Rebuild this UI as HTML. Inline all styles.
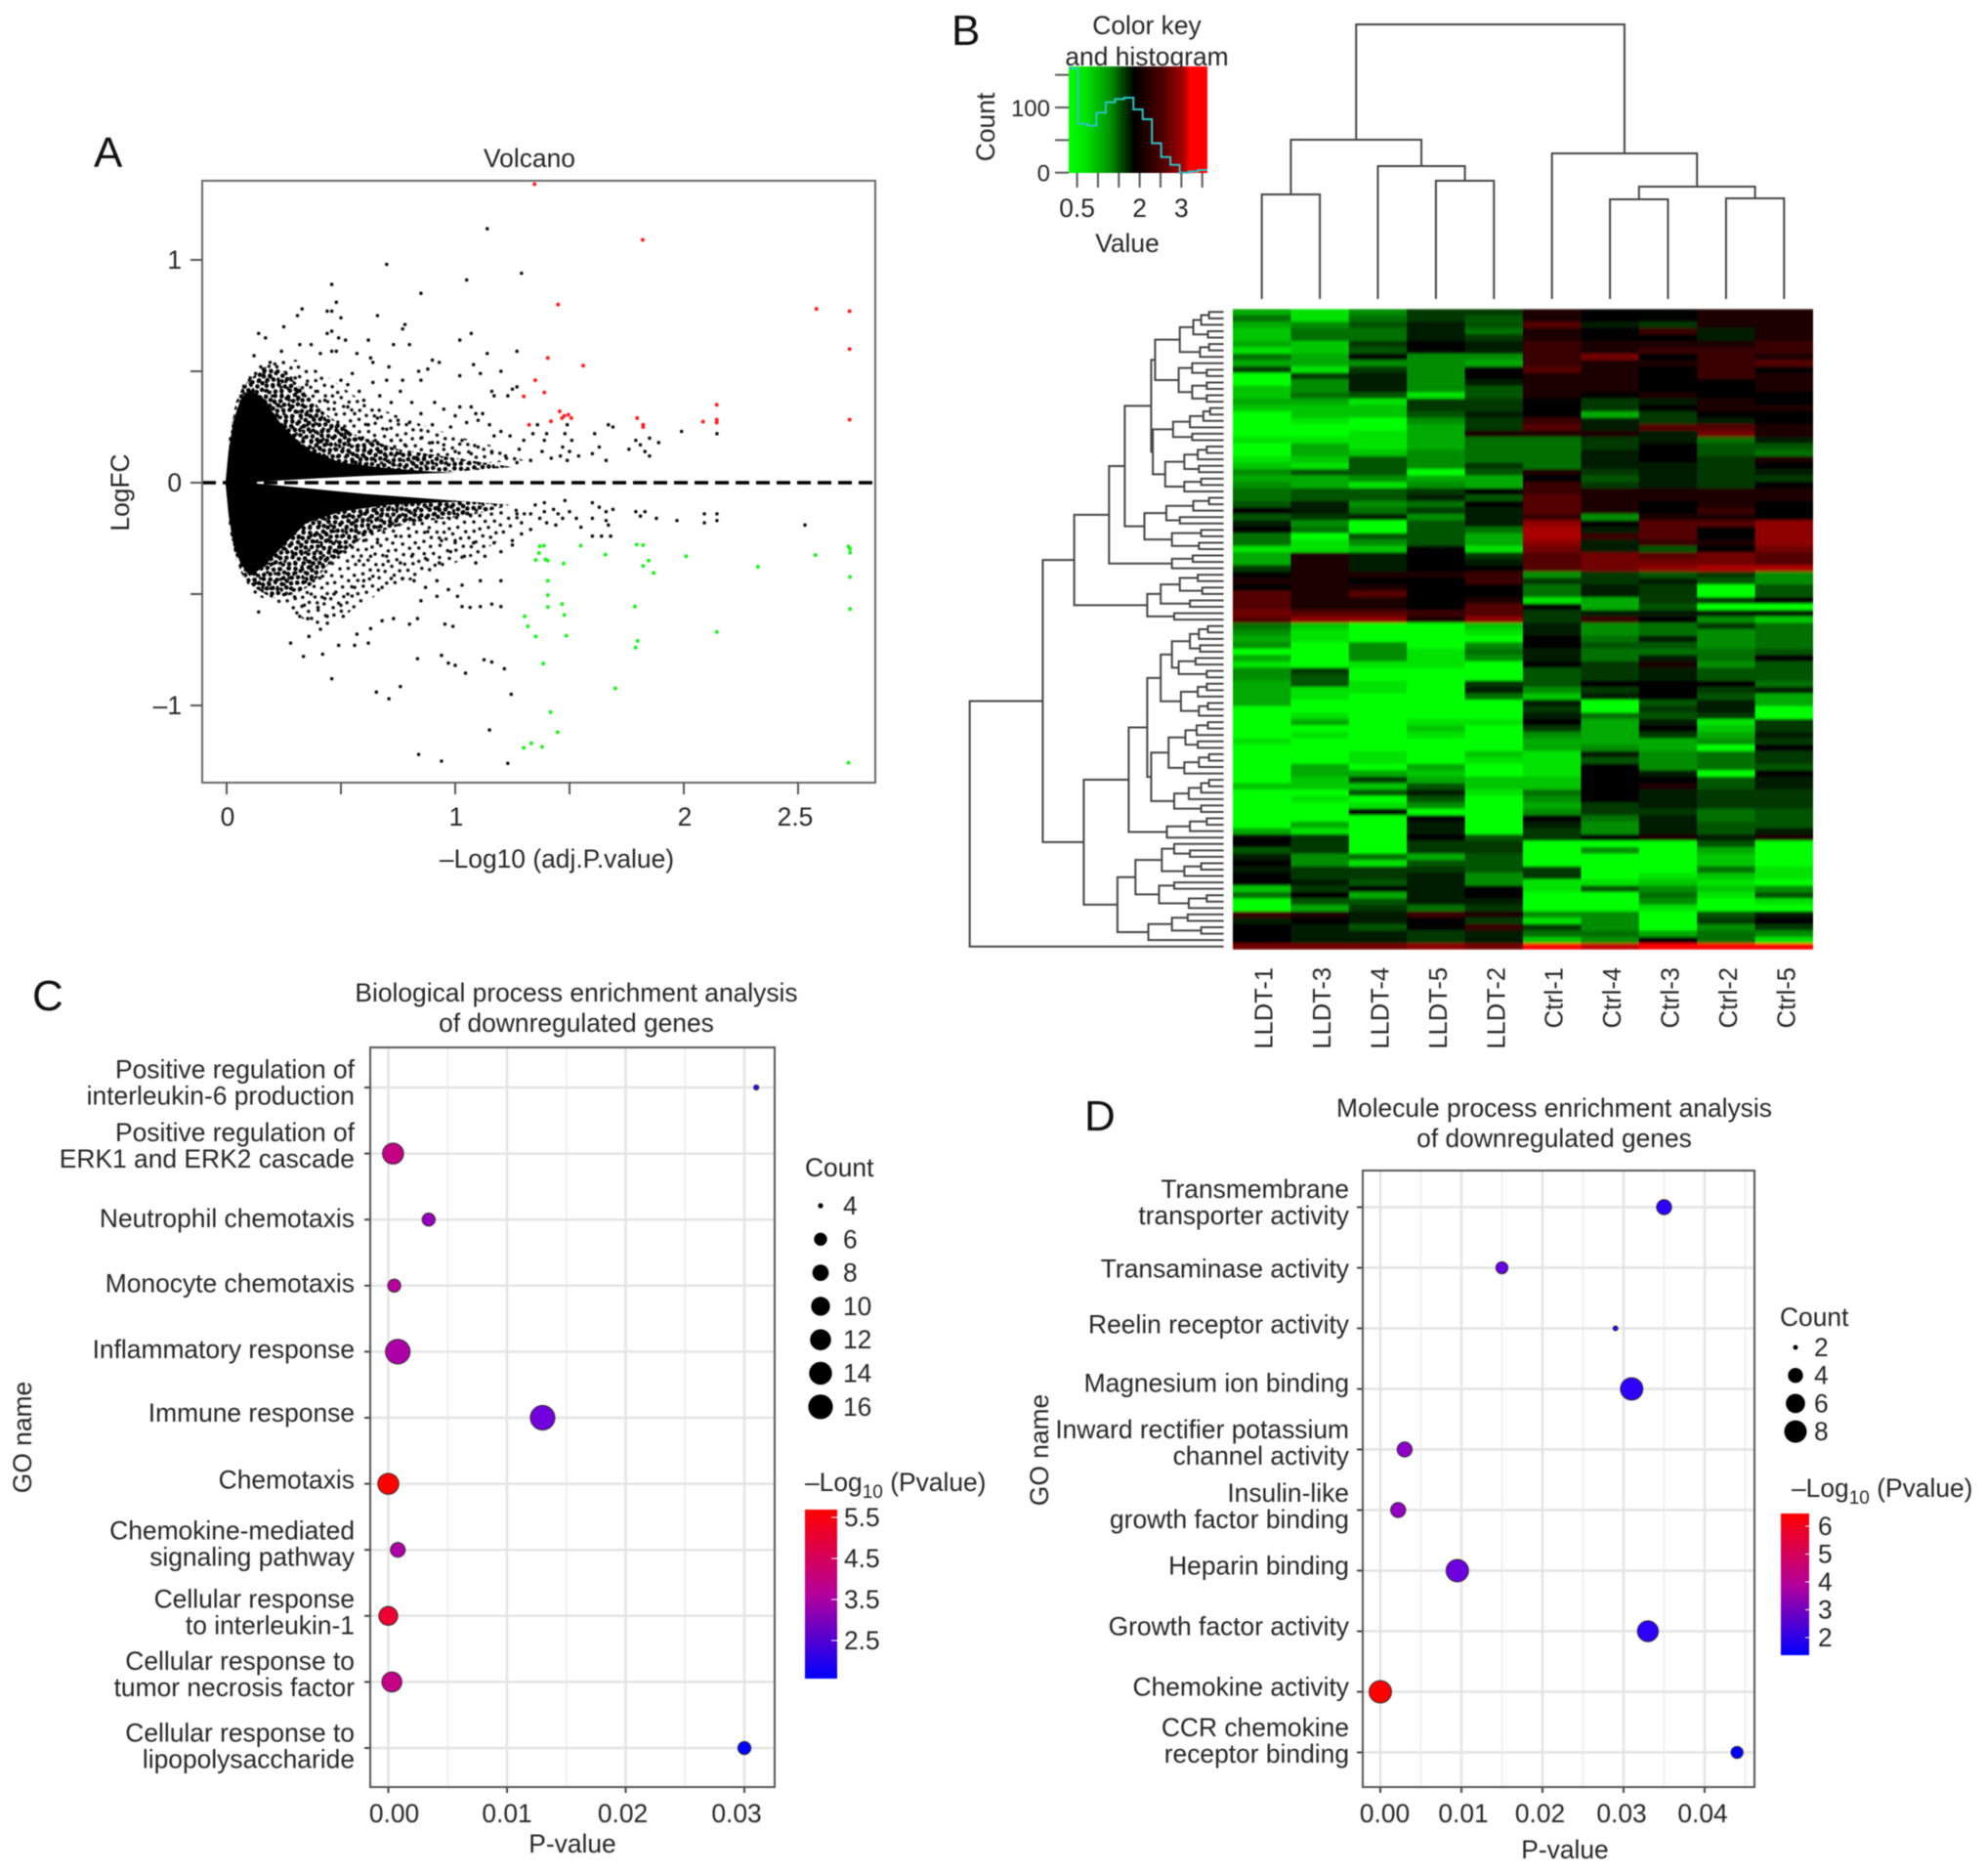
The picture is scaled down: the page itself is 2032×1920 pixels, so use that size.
<!DOCTYPE html>
<html lang="en">
<head>
<meta charset="utf-8">
<title>Volcano, heatmap and GO enrichment figure</title>
<style>
html,body{margin:0;padding:0;background:#fff;}
svg{display:block;filter:blur(0.55px);}
text{font-family:"Liberation Sans",Arial,sans-serif;fill:#262626;font-size:26.4px;}
.panel{font-size:44px;fill:#111;}
</style>
</head>
<body>
<svg id="figure" xmlns="http://www.w3.org/2000/svg" width="2032" height="1920" viewBox="0 0 2032 1920">
  <defs>
    <pattern id="speckle" width="50" height="50" patternUnits="userSpaceOnUse" patternTransform="rotate(17)">
      <g fill="#111">
      <circle cx="3" cy="5" r="1.8"/><circle cx="11" cy="2" r="1.8"/><circle cx="19" cy="7" r="1.8"/><circle cx="27" cy="3" r="1.8"/><circle cx="35" cy="6" r="1.8"/><circle cx="44" cy="2" r="1.8"/>
      <circle cx="7" cy="12" r="1.8"/><circle cx="15" cy="14" r="1.8"/><circle cx="24" cy="11" r="1.8"/><circle cx="31" cy="15" r="1.8"/><circle cx="40" cy="12" r="1.8"/><circle cx="47" cy="14" r="1.8"/>
      <circle cx="2" cy="20" r="1.8"/><circle cx="11" cy="22" r="1.8"/><circle cx="20" cy="19" r="1.8"/><circle cx="28" cy="24" r="1.8"/><circle cx="36" cy="20" r="1.8"/><circle cx="45" cy="23" r="1.8"/>
      <circle cx="6" cy="29" r="1.8"/><circle cx="15" cy="31" r="1.8"/><circle cx="23" cy="28" r="1.8"/><circle cx="33" cy="30" r="1.8"/><circle cx="41" cy="29" r="1.8"/><circle cx="48" cy="33" r="1.8"/>
      <circle cx="3" cy="37" r="1.8"/><circle cx="12" cy="39" r="1.8"/><circle cx="20" cy="36" r="1.8"/><circle cx="28" cy="38" r="1.8"/><circle cx="37" cy="40" r="1.8"/><circle cx="44" cy="38" r="1.8"/>
      <circle cx="8" cy="45" r="1.8"/><circle cx="17" cy="46" r="1.8"/><circle cx="25" cy="44" r="1.8"/><circle cx="33" cy="47" r="1.8"/><circle cx="41" cy="45" r="1.8"/><circle cx="48" cy="44" r="1.8"/>
      </g>
    </pattern>
    <pattern id="speckle-dense" width="28" height="28" patternUnits="userSpaceOnUse" patternTransform="rotate(-23)">
      <g fill="#000">
      <circle cx="2" cy="2" r="2.3"/><circle cx="8" cy="4" r="2.3"/><circle cx="13" cy="1" r="2.3"/><circle cx="19" cy="3" r="2.3"/><circle cx="25" cy="5" r="2.3"/>
      <circle cx="5" cy="8" r="2.3"/><circle cx="11" cy="9" r="2.3"/><circle cx="17" cy="7" r="2.3"/><circle cx="23" cy="10" r="2.3"/><circle cx="27" cy="14" r="2.3"/>
      <circle cx="1" cy="13" r="2.3"/><circle cx="8" cy="14" r="2.3"/><circle cx="14" cy="12" r="2.3"/><circle cx="20" cy="14" r="2.3"/>
      <circle cx="4" cy="19" r="2.3"/><circle cx="10" cy="18" r="2.3"/><circle cx="16" cy="17" r="2.3"/><circle cx="22" cy="19" r="2.3"/><circle cx="27" cy="21" r="2.3"/>
      <circle cx="1" cy="24" r="2.3"/><circle cx="7" cy="24" r="2.3"/><circle cx="13" cy="22" r="2.3"/><circle cx="19" cy="24" r="2.3"/><circle cx="25" cy="26" r="2.3"/><circle cx="11" cy="27" r="2.3"/>
      </g>
    </pattern>
    <linearGradient id="key-gradient" x1="0" x2="1" y1="0" y2="0">
      <stop offset="0" stop-color="#00ff00"/><stop offset="0.13" stop-color="#00e000"/><stop offset="0.3" stop-color="#009000"/><stop offset="0.47" stop-color="#000"/><stop offset="0.68" stop-color="#500000"/><stop offset="0.84" stop-color="#b00000"/><stop offset="0.87" stop-color="#ff0000"/><stop offset="1" stop-color="#ff0000"/>
    </linearGradient>
    <linearGradient id="cbar-gradient" x1="0" x2="0" y1="0" y2="1">
      <stop offset="0" stop-color="#ff0000"/><stop offset="0.5" stop-color="#b5009c"/><stop offset="1" stop-color="#0000ff"/>
    </linearGradient>
    <filter id="row-smooth" filterUnits="userSpaceOnUse" x="1262" y="316" width="594" height="656">
      <feGaussianBlur stdDeviation="0.3 1.4"/>
    </filter>
  </defs>

  <text class="panel" x="96" y="171">A</text>
  <text class="panel" x="974" y="46">B</text>
  <text class="panel" x="33" y="1034">C</text>
  <text class="panel" x="1110" y="1157">D</text>

  <text x="542" y="171" text-anchor="middle">Volcano</text>
  <text x="570" y="888" text-anchor="middle">–Log10 (adj.P.value)</text>
  <text transform="translate(132,504) rotate(-90)" text-anchor="middle">LogFC</text>

  <text x="1174" y="35" text-anchor="middle">Color key</text>
  <text x="1174" y="67" text-anchor="middle">and histogram</text>
  <text x="1154" y="258" text-anchor="middle">Value</text>
  <text transform="translate(1018,130) rotate(-90)" text-anchor="middle">Count</text>

  <text x="590" y="1025" text-anchor="middle">Biological process enrichment analysis</text>
  <text x="590" y="1056" text-anchor="middle">of downregulated genes</text>
  <text x="586" y="1896" text-anchor="middle">P-value</text>
  <text transform="translate(32,1471) rotate(-90)" text-anchor="middle">GO name</text>
  <text x="824" y="1204">Count</text>
  <text x="824" y="1526">–Log<tspan dy="7" style="font-size:19px">10</tspan><tspan dy="-7"> (Pvalue)</tspan></text>
  <rect x="824" y="1545" width="33" height="173" fill="url(#cbar-gradient)"/>

  <text x="1591" y="1143" text-anchor="middle">Molecule process enrichment analysis</text>
  <text x="1591" y="1174" text-anchor="middle">of downregulated genes</text>
  <text x="1602" y="1902" text-anchor="middle">P-value</text>
  <text transform="translate(1073,1484) rotate(-90)" text-anchor="middle">GO name</text>
  <text x="1822" y="1357">Count</text>
  <text x="1834" y="1532">–Log<tspan dy="7" style="font-size:19px">10</tspan><tspan dy="-7"> (Pvalue)</tspan></text>
  <rect x="1823" y="1549" width="29" height="145" fill="url(#cbar-gradient)"/>
</svg>

<script>
/* ---------- Panel A: volcano data (x = -log10 adj.P, y = logFC) ---------- */
const volcanoXTicks = [0, 0.5, 1, 1.5, 2, 2.5];
const volcanoXTickLabels = ["0", "", "1", "", "2", "2.5"];
const volcanoYTicks = [1, 0.5, 0, -0.5, -1];
const volcanoYTickLabels = ["1", "", "0", "", "–1"];
const volcanoCoreX = [-0.005,0.008,0.03,0.06,0.1,0.16,0.24,0.35,0.5,0.7,0.9,1.0,0.9,0.6,0.4,0.2,0.08,0.2,0.4,0.6,0.8,1.05,0.9,0.7,0.5,0.35,0.25,0.16,0.1,0.06,0.03,0.008];
const volcanoCoreY = [0,0.14,0.28,0.37,0.42,0.38,0.26,0.15,0.09,0.065,0.05,0.045,0.042,0.03,0.02,0.008,0,-0.01,-0.03,-0.05,-0.065,-0.085,-0.09,-0.1,-0.13,-0.18,-0.28,-0.38,-0.42,-0.36,-0.28,-0.14];
const volcanoDenseX = [0.01,0.04,0.07,0.12,0.17,0.25,0.33,0.42,0.55,0.75,1.0,1.25,1.0,0.4,0.1,0.4,1.0,1.25,1.05,0.8,0.6,0.45,0.37,0.3,0.2,0.12,0.07,0.04,0.01];
const volcanoDenseY = [0.2,0.36,0.43,0.48,0.52,0.5,0.42,0.32,0.22,0.15,0.11,0.07,0.05,0.05,0,-0.08,-0.08,-0.1,-0.15,-0.18,-0.24,-0.36,-0.46,-0.5,-0.52,-0.47,-0.42,-0.34,-0.2];
const volcanoScatterX = [0.03,0.07,0.12,0.2,0.32,0.45,0.6,0.8,1.0,1.15,1.3,0.9,0.5,0.3,0.15,0.03,0.15,0.3,0.5,0.9,1.35,1.25,1.1,0.9,0.7,0.55,0.42,0.35,0.22,0.12,0.07];
const volcanoScatterY = [0.3,0.44,0.52,0.56,0.55,0.47,0.36,0.28,0.21,0.17,0.1,0.07,0.08,0.15,0.25,-0.3,-0.25,-0.15,-0.1,-0.1,-0.12,-0.22,-0.32,-0.4,-0.48,-0.57,-0.68,-0.62,-0.55,-0.5,-0.42];
const volcanoBlack = [
[1.14,1.14],[.70,.98],[1.29,.94],[1.05,.91],[.46,.89],[.85,.85],[.48,.81],[.33,.78],[.31,.75],[.44,.77],[.46,.77],[.50,.74],[.66,.75],[.78,.71],[.77,.69],[.25,.70],[.14,.67],[.17,.65],[.44,.67],[.46,.68],[.49,.65],[.52,.64],[1.07,.67],[1.02,.64],[.62,.64],[.73,.62],[.80,.62],[.32,.62],[.37,.62],[.41,.58],[.46,.59],[.48,.59],[1.14,.58],[1.27,.59],[.12,.57],[.24,.59],[.57,.58],[.63,.56],[.64,.54],[.71,.52],[.90,.55],[.93,.54],[.88,.51],[.84,.50],[.85,.46],[1.08,.53],[1.11,.49],[1.02,.48],[1.20,.50],[.70,.46],[.77,.46],[.64,.45],[.76,.41],[1.27,.43],[1.17,.39],[1.23,.39],[1.16,.41],[1.25,.42],[.55,.49],[.50,.46],[.53,.44],[.58,.41],[.60,.37],[.67,.39],[.72,.36],[.81,.36],[.91,.36],[.95,.33],[.85,.31],[1.02,.34],[1.07,.34],[1.0,.30],[1.09,.31],[1.12,.31],[1.05,.27],[1.1,.28],[1.15,.26],[.98,.25],[.90,.26],[.80,.27],[.75,.28],[.70,.24],[.66,.29],[.62,.26],[.56,.31],[.53,.34],[.47,.33],[.43,.37],[.39,.41],[.35,.44],[.30,.47],[.26,.49],[.22,.52],[.19,.54],[.16,.51],[.10,.46],[.48,.25],[.52,.22],[.58,.2],[.65,.19],[.72,.19],[.78,.17],[.85,.2],[.9,.18],[.95,.17],[1.0,.14],[1.03,.19],[1.07,.13],[1.1,.16],[1.17,.21],[1.2,.23],[1.24,.21],[1.16,.14],[1.22,.12],[1.28,.15],[1.3,.19],[1.34,.22],[1.36,.26],[1.38,.14],[1.42,.11],[1.39,.19],[1.4,.22],[1.33,.1],[1.27,.09],[1.47,.16],[1.48,.22],[1.49,.26],[1.5,.14],[1.46,.12],[1.51,.19],[1.49,.1],[1.54,.12],[1.6,.13],[1.61,.22],[1.63,.16],[1.66,.1],[1.67,.26],[1.69,.25],[1.79,.19],[1.81,.17],[1.76,.15],[1.83,.14],[1.85,.12],[1.89,.18],[1.85,.2],[1.99,.23],[2.145,.22],
[.46,-.88],[.655,-.94],[.71,-.97],[.76,-.915],[1.245,-.95],[1.15,-1.11],[.84,-1.22],[.94,-1.25],[1.23,-1.26],[.336,-.78],[.42,-.77],[.28,-.72],[.49,-.73],[.56,-.73],[.62,-.72],[.835,-.79],[.94,-.775],[.97,-.81],[1.0,-.82],[1.045,-.855],[1.126,-.795],[1.16,-.805],[1.215,-.835],[.955,-.635],[.99,-.645],[1.03,-.556],[1.065,-.56],[1.11,-.556],[1.16,-.545],[1.2,-.556],[1.01,-.51],[.92,-.51],[.85,-.53],[.835,-.61],[.8,-.635],[.73,-.61],[.68,-.62],[.63,-.655],[.57,-.68],[.51,-.6],[.44,-.6],[.355,-.61],[.32,-.6],[.36,-.69],[.14,-.58],[.30,-.52],[.34,-.55],[.37,-.5],[.40,-.56],[.43,-.52],[.47,-.5],[.5,-.55],[.53,-.5],[.56,-.47],[.6,-.44],[.64,-.42],[.68,-.47],[.72,-.43],[.77,-.43],[.82,-.44],[.87,-.47],[.92,-.44],[.97,-.48],[1.03,-.46],[1.11,-.44],[1.2,-.44],[.58,-.35],[.63,-.33],[.7,-.33],[.76,-.36],[.81,-.33],[.87,-.34],[.93,-.36],[.98,-.31],[1.04,-.33],[1.09,-.36],[1.13,-.33],[1.2,-.31],[1.25,-.28],[1.17,-.27],[1.08,-.27],[1.0,-.26],[.94,-.26],[.88,-.22],[.8,-.24],[.74,-.24],[.66,-.27],[.6,-.26],[.55,-.29],[.5,-.31],[.45,-.36],[.42,-.42],[.38,-.44],[1.29,-.18],[1.33,-.21],[1.27,-.14],[1.33,-.14],[1.37,-.16],[1.39,-.13],[1.4,-.18],[1.43,-.12],[1.45,-.14],[1.44,-.19],[1.39,-.09],[1.47,-.16],[1.5,-.13],[1.48,-.08],[1.53,-.16],[1.6,-.16],[1.6,-.09],[1.63,-.11],[1.66,-.13],[1.66,-.17],[1.69,-.12],[1.64,-.24],[1.6,-.24],[1.68,-.24],[1.67,-.19],[1.79,-.13],[1.81,-.15],[1.83,-.13],[1.88,-.16],[1.97,-.17],[2.09,-.14],[2.09,-.18],[2.145,-.14],[2.145,-.17],[2.53,-.19],[1.55,-.2],[1.25,-.26],[1.29,-.23],[1.35,-.1]
];
const volcanoRed = [[1.347,1.34],[1.82,1.09],[1.45,.80],[2.58,.78],[2.725,.77],[2.725,.60],[1.405,.56],[1.56,.525],[1.35,.46],[1.39,.405],[1.30,.387],[2.144,.35],[1.457,.32],[1.477,.30],[1.495,.305],[1.467,.29],[1.508,.29],[1.796,.29],[2.725,.283],[2.084,.274],[2.144,.283],[2.144,.27],[1.419,.276],[1.323,.26],[1.822,.26],[1.822,.25]];
const volcanoGreen = [[1.37,-.285],[1.388,-.283],[1.549,-.283],[1.794,-.278],[1.822,-.28],[2.72,-.287],[2.727,-.296],[2.727,-.314],[1.366,-.316],[1.657,-.323],[2.01,-.33],[2.576,-.325],[1.352,-.347],[1.395,-.345],[1.405,-.35],[1.474,-.363],[1.846,-.35],[1.822,-.374],[1.868,-.405],[2.324,-.378],[2.727,-.423],[1.405,-.44],[1.405,-.505],[1.405,-.558],[1.467,-.545],[1.477,-.594],[1.786,-.556],[2.727,-.567],[1.304,-.60],[1.318,-.645],[1.352,-.69],[1.486,-.687],[2.144,-.67],[1.798,-.71],[1.789,-.74],[1.385,-.812],[1.70,-.923],[1.417,-1.03],[1.448,-1.12],[1.30,-1.19],[1.333,-1.17],[1.38,-1.186],[2.72,-1.257]];

/* ---------- Panel B: heatmap data ---------- */
const heatColumns = ["LLDT-1","LLDT-3","LLDT-4","LLDT-5","LLDT-2","Ctrl-1","Ctrl-4","Ctrl-3","Ctrl-2","Ctrl-5"];
const heatRows = [
[-6,-8,-5,-2,-2,1,0,0,1,1],[-4,-8,-4,-2,-3,1,0,0,1,1],[-6,-5,-3,-1,-3,3,-1,-2,1,1],[-7,-4,-4,-1,-4,1,0,2,-1,1],[-7,-4,-4,-1,-2,1,0,0,-1,1],
[-6,-7,-2,0,-1,2,1,1,1,2],[-8,-7,-3,0,-1,2,1,2,2,2],[-4,-6,0,-5,-5,2,4,0,2,1],[-6,-6,-5,-5,-6,2,1,1,2,3],[-2,-8,-2,-5,0,3,1,0,2,0],
[-9,-2,-1,-5,0,1,1,0,2,1],[-9,-5,-1,-5,-1,1,1,0,0,1],[-7,-5,-1,-5,-3,1,1,0,0,1],[-7,-4,-3,-8,-3,1,0,1,0,0],[-6,-6,-8,-2,-2,0,-2,-1,1,0],
[-7,-7,-7,-2,-2,0,-2,0,1,1],[-9,-7,-7,-3,-1,0,-6,-2,0,0],[-9,-8,-9,-5,-2,2,-1,-2,-1,0],[-9,-9,-9,-6,-2,3,-1,3,3,1],[-9,-9,-8,-6,1,1,1,-1,4,1],
[-8,-8,-8,-6,-4,-4,-2,-1,-4,-1],[-9,-6,-8,-6,-4,-4,-2,0,-3,-3],[-9,-6,-7,-5,-4,-4,-1,0,-3,-4],[-8,-7,-3,-5,-4,-4,-1,0,-2,1],[-7,-8,-3,-5,-2,-4,-1,-1,-2,0],
[-5,-3,-3,-9,-3,1,-2,-1,-2,-1],[-6,-6,-5,-6,-6,0,-3,-1,-2,-2],[-5,-6,-8,-5,-6,2,-2,-1,-2,0],[-4,-3,-3,-2,0,2,1,1,1,1],[-4,-3,-3,-1,-3,3,1,1,1,1],
[-3,-1,-5,-4,0,3,1,0,1,0],[0,-1,-4,-2,-1,3,1,0,2,0],[-3,-2,-1,-5,-1,2,-5,1,1,0],[-1,-5,-9,-3,-1,5,0,3,3,5],[0,-4,-9,-3,-4,6,-1,3,0,5],
[-4,-9,-3,-3,-6,6,2,3,0,5],[-4,-8,-5,-3,-6,5,-1,2,1,5],[-8,-8,-7,0,-8,4,-1,-3,0,4],[-6,1,-1,0,-2,3,4,3,4,3],[-6,1,-1,0,-1,3,4,4,4,3],
[-2,1,-1,0,0,3,4,5,6,6],[0,1,1,1,2,-5,-2,-3,-2,-5],[1,1,0,0,2,-2,-2,-1,-3,-5],[0,1,1,0,0,-4,-1,-2,-9,-3],[3,1,3,0,0,-4,-1,-2,-9,-3],
[3,1,1,0,1,-8,-6,-2,-2,0],[3,1,1,0,3,0,-6,-3,-9,-9],[4,3,3,2,3,-2,-1,-1,-1,-1],[3,5,5,1,5,-2,2,0,-5,-7],[-4,-7,-9,-9,-7,-1,-5,-4,-2,-4],
[-5,-8,-9,-9,-8,-1,-5,-4,-5,-4],[-6,-8,-9,-9,-9,0,-4,-1,-5,-4],[-5,-9,-5,-9,-5,0,-3,-3,-5,-4],[-9,-9,-5,-8,-4,-1,-4,-4,-4,-3],[-6,-9,-5,-8,-5,-1,-4,-1,-4,0],
[-8,-9,-8,-8,-9,0,-2,1,-5,-3],[-5,-2,-9,-9,-9,-3,-2,-1,-3,-3],[-5,-3,-9,-9,-9,-3,-2,-1,-3,-3],[-6,-3,-8,-9,-2,-3,0,0,0,-4],[-6,-8,-8,-9,-1,-5,-2,0,-2,-1],
[-6,-8,-9,-9,-4,-7,-1,0,-3,-6],[-6,-9,-9,-9,-9,-1,-9,-3,-1,-6],[-9,-9,-9,-9,-9,-2,-9,-2,-1,-9],[-9,-8,-9,-9,-9,-1,-4,-3,-2,-9],[-9,-6,-9,-8,-8,0,-6,-1,-8,-2],
[-9,-9,-9,-7,-9,-2,-6,0,-7,-2],[-9,-8,-9,-8,-9,-5,-6,-2,-6,-1],[-8,-9,-9,-9,-9,-6,-6,-6,-5,-2],[-9,-9,-9,-9,-9,-6,-5,-6,-9,0],[-9,-9,-8,-9,-7,-8,-1,-5,-4,-2],
[-9,-9,-8,-9,-8,-8,-3,-5,-4,-2],[-9,-6,-9,-6,-9,-8,0,-5,-4,-3],[-9,-6,-6,-7,-9,-8,0,-1,-9,0],[-9,-7,-2,-6,-7,-7,0,0,-3,-1],[-7,-7,-7,-3,-7,-7,0,1,-3,-1],
[-9,-9,-3,-1,-8,-4,0,-1,-2,-2],[-9,-8,-9,-3,-9,-5,0,-1,-2,-2],[-9,-9,-8,-5,-9,-6,-2,-1,-2,-2],[-9,-9,0,-9,-9,-5,-2,-2,-4,-3],[-9,-9,-9,0,-9,0,-4,-1,-4,-3],
[-9,-6,-9,-1,-9,-1,-5,-1,-3,-3],[-6,-8,-9,-1,-9,-2,-5,-1,-3,-1],[0,-2,-9,0,-3,-2,0,1,-1,1],[0,-2,-9,-2,-2,-9,-9,-9,-3,-9],[-3,-2,-9,-2,-2,-9,-5,-9,-6,-9],
[-1,-5,-4,-6,-3,-9,-9,-9,-7,-9],[0,-5,-8,-3,-3,-9,-9,-9,-7,-9],[-1,-2,-2,-2,-3,-2,-9,-9,-4,-8],[0,-2,-2,-1,-5,-2,-9,-8,-7,-8],[0,-1,-3,-1,-5,-8,-8,-7,-8,-9],
[-7,-2,0,-1,0,-8,-3,-5,-7,-5],[-4,0,-6,-1,0,-9,-9,-4,-8,-3],[-9,-3,-3,-1,-1,-9,-9,-5,-9,-8],[-9,-6,-2,-4,-2,-9,-9,-8,-9,-9],[2,1,-1,2,1,-5,-5,-9,-3,-1],
[-1,0,-1,0,-2,-8,-5,-9,-2,0],[0,-1,-3,0,2,-2,-5,-9,-5,-2],[0,-1,-1,-2,-1,-4,-4,-6,-4,-5],[0,-1,-1,-2,-1,-7,-5,0,-4,-8],[4,4,4,5,4,9,7,9,9,9]
];
const colDendrogram = [281,[163,[107,0,0],[136,0,[121,0,0]]],[149,0,[115,[102,0,0],[103,0,0]]]];
const rowClusterA = [122,[78,[54,[40,[26,0,0],0],[28,0,0]],[42,[26,0,0],0]],[80,[56,0,[30,0,0]],[56,[30,0,0],[30,0,0]]]];
const rowClusterB = [126,[90,[60,[36,[24,0,0],0],0],[56,0,0]],[104,[70,[46,[30,0,0],0],[44,0,0]],[70,[40,0,0],0]]];
const rowClusterV = [141,[102,[54,[26,0,0],0],[78,0,0]],[92,[40,0,0],[44,0,0]]];
const rowClusterT1b = [92,[55,0,0],0];
const rowClusterT2 = [136,[112,[78,[46,0,0],[38,0,0]],[60,0,0]],[88,0,0]];
const rowClusterW1 = [112,[92,[60,[44,[28,0,0],0],[42,0,0]],[80,[50,0,0],[30,0,0]]],[76,[46,[30,0,0],0],[44,[28,0,0],0]]];
const rowClusterW2 = [129,[98,[68,[48,[28,0,0],0],[46,0,0]],[70,[44,[26,0,0],0],0]],[88,[62,[40,[26,0,0],0],0],[40,0,0]]];
const rowClusterX = [101,[60,[30,0,0],0],0];
const rowClusterY = [157,[110,[88,0,[60,0,0]],[70,[40,0,0],0]],[115,[88,0,0],[62,[30,0,0],0]]];
const rowClusterZ = [134,[92,[64,0,0],[40,0,0]],0];
const rowDendrogram = [452,[322,
  [266,[204,[176,[129,rowClusterA,rowClusterB],rowClusterV],rowClusterT1b],rowClusterT2],
  [249,[169,[136,rowClusterW1,rowClusterW2],rowClusterX],[189,rowClusterY,rowClusterZ]]
],0];
const keyHistCounts = [160,75,72,92,108,113,115,97,82,45,24,12,0,2,4];
const keyXTicks = [0.5,1,1.5,2,2.5,3,3.5];
const keyXTickLabels = ["0.5","","","2","","3",""];
const keyYTicks = [0,50,100,150];
const keyYTickLabels = ["0","","100",""];

/* ---------- Panel C: biological process bubbles ---------- */
const bpTerms = [["Positive regulation of","interleukin-6 production"],["Positive regulation of","ERK1 and ERK2 cascade"],["Neutrophil chemotaxis"],["Monocyte chemotaxis"],["Inflammatory response"],["Immune response"],["Chemotaxis"],["Chemokine-mediated","signaling pathway"],["Cellular response","to interleukin-1"],["Cellular response to","tumor necrosis factor"],["Cellular response to","lipopolysaccharide"]];
const bpPValues = [0.031,0.0004,0.0034,0.0005,0.0008,0.013,0,0.0008,0,0.0003,0.03];
const bpCounts = [4,12,6,6,16,16,12,7,10,11,6];
const bpLogP = [2.0,3.9,3.0,3.6,3.4,2.5,5.5,3.4,5.0,3.9,1.9];
const bpXTicks = [0,0.01,0.02,0.03];
const bpXTickLabels = ["0.00","0.01","0.02","0.03"];
const bpLegendCounts = [4,6,8,10,12,14,16];
const bpColorTicks = [5.5,4.5,3.5,2.5];

/* ---------- Panel D: molecular function bubbles ---------- */
const mfTerms = [["Transmembrane","transporter activity"],["Transaminase activity"],["Reelin receptor activity"],["Magnesium ion binding"],["Inward rectifier potassium","channel activity"],["Insulin-like","growth factor binding"],["Heparin binding"],["Growth factor activity"],["Chemokine activity"],["CCR chemokine","receptor binding"]];
const mfPValues = [0.035,0.015,0.029,0.031,0.003,0.0022,0.0095,0.033,0,0.044];
const mfCounts = [4,3,2,8,4,4,8,7,8,3];
const mfLogP = [1.9,2.4,1.9,1.9,3.0,3.1,2.5,1.9,6.3,1.8];
const mfXTicks = [0,0.01,0.02,0.03,0.04];
const mfXTickLabels = ["0.00","0.01","0.02","0.03","0.04"];
const mfLegendCounts = [2,4,6,8];
const mfColorTicks = [6,5,4,3,2];

/* ---------- drawing ---------- */
const svg = document.getElementById('figure');
const NS = 'http://www.w3.org/2000/svg';
function mk(tag, props, parent) {
  const el = document.createElementNS(NS, tag);
  for (const k in props) el.setAttribute(k, props[k]);
  (parent || svg).appendChild(el);
  return el;
}
function linear(d0, d1, r0, r1) { return v => r0 + (v - d0) * (r1 - r0) / (d1 - d0); }
function polyPoints(xs, ys, fx, fy) { return xs.map((x, i) => fx(x) + ',' + fy(ys[i])).join(' '); }

/* Panel A */
const vx = linear(0, 2.5, 232, 817);
const vy = linear(0, 1, 494, 266);
const scatterPoly = mk('polygon', {points: polyPoints(volcanoScatterX, volcanoScatterY, vx, vy), fill: 'url(#speckle)'});


const densePoly = mk('polygon', {points: polyPoints(volcanoDenseX, volcanoDenseY, vx, vy), fill: 'url(#speckle-dense)'});


const corePoly = mk('polygon', {points: polyPoints(volcanoCoreX, volcanoCoreY, vx, vy), fill: '#000'});


volcanoBlack.forEach(p => {
  const c = mk('circle', {cx: vx(p[0]), cy: vy(p[1]), r: 1.8, fill: '#111'});
  
  
});
volcanoRed.forEach(p => {
  const c = mk('circle', {cx: vx(p[0]), cy: vy(p[1]), r: 2, fill: '#ff2020'});
  
  
});
volcanoGreen.forEach(p => {
  const c = mk('circle', {cx: vx(p[0]), cy: vy(p[1]), r: 2, fill: '#20f020'});
  
  
});
const zeroLine = mk('line', {x1: 207, x2: 896, y1: vy(0), y2: vy(0), stroke: '#000', 'stroke-width': 3.5, 'stroke-dasharray': '14 7'});


const vFrame = mk('rect', {x: 207, y: 185, width: 689, height: 616, fill: 'none', stroke: '#666', 'stroke-width': 2});


volcanoXTicks.forEach((t, i) => {
  const tick = mk('line', {x1: vx(t), x2: vx(t), y1: 801, y2: 813, stroke: '#555', 'stroke-width': 2});
  
  
  const lab = mk('text', {x: vx(t) + (t === 2.5 ? -3 : 1), y: 845, 'text-anchor': 'middle'});
  lab.textContent = volcanoXTickLabels[i];
  
  
});
volcanoYTicks.forEach((t, i) => {
  const tick = mk('line', {x1: 195, x2: 207, y1: vy(t), y2: vy(t), stroke: '#555', 'stroke-width': 2});
  
  
  const lab = mk('text', {x: 186, y: vy(t) + 9, 'text-anchor': 'end'});
  lab.textContent = volcanoYTickLabels[i];
  
  
});

/* Panel B heatmap */
const heatLeft = 1262, heatTop = 316, heatW = 594, heatH = 656;
const cellW = heatW / heatColumns.length, cellH = heatH / heatRows.length;
function heatColor(v) {
  const a = Math.min(1, Math.abs(v) / 9);
  const c = Math.round(a * 255);
  return v >= 0 ? 'rgb(' + c + ',0,0)' : 'rgb(0,' + c + ',0)';
}
const heatGroup = mk('g', {filter: 'url(#row-smooth)'});


heatRows.forEach((row, r) => {
  row.forEach((v, c) => {
    const cell = mk('rect', {x: heatLeft + c * cellW, y: heatTop + r * cellH, width: cellW + 0.4, height: cellH + 0.4, fill: heatColor(v)}, heatGroup);
    
    
  });
});
heatColumns.forEach((name, c) => {
  const lab = mk('text', {transform: 'translate(' + (heatLeft + (c + 0.5) * cellW + 11) + ',990) rotate(-90)', 'text-anchor': 'end', style: 'font-size:25.5px'});
  lab.textContent = name;
  
  
});
function drawDendro(node, state, toXY, name) {
  if (node === 0) { const pos = state.next; state.next += 1; return {pos: pos, h: 0}; }
  const a = drawDendro(node[1], state, toXY, name);
  const b = drawDendro(node[2], state, toXY, name);
  const h = node[0];
  const p = [toXY(a.pos, a.h), toXY(a.pos, h), toXY(b.pos, h), toXY(b.pos, b.h)];
  const line = mk('polyline', {points: p.map(q => q.join(',')).join(' '), fill: 'none', stroke: '#444', 'stroke-width': 2});
  
  
  return {pos: (a.pos + b.pos) / 2, h: h};
}
drawDendro(colDendrogram, {next: 0}, (pos, h) => [heatLeft + (pos + 0.5) * cellW, 306 - h], 'column-dendrogram-branch');
drawDendro(rowDendrogram, {next: 0}, (pos, h) => [1252.6 - h / 1.739, heatTop + (pos + 0.5) * cellH], 'row-dendrogram-branch');

/* Color key */
const keyRect = mk('rect', {x: 1094, y: 68, width: 142, height: 109, fill: 'url(#key-gradient)'});


const kx = linear(0.5, 3.5, 1102.6, 1230.7);
const ky = linear(0, 100, 176.7, 110);
const keyBinW = 142 / keyHistCounts.length;
let histPts = [];
keyHistCounts.forEach((n, i) => {
  const yy = Math.max(68, ky(n));
  histPts.push((1094 + i * keyBinW) + ',' + yy);
  histPts.push((1094 + (i + 1) * keyBinW) + ',' + yy);
});
const hist = mk('polyline', {points: histPts.join(' '), fill: 'none', stroke: '#2fc4c4', 'stroke-width': 2});


keyXTicks.forEach((t, i) => {
  const tick = mk('line', {x1: kx(t), x2: kx(t), y1: 177, y2: 192, stroke: '#555', 'stroke-width': 2});
  
  
  const lab = mk('text', {x: kx(t), y: 222, 'text-anchor': 'middle'});
  lab.textContent = keyXTickLabels[i];
  
  
});
keyYTicks.forEach((t, i) => {
  const tick = mk('line', {x1: 1080, x2: 1094, y1: ky(t), y2: ky(t), stroke: '#555', 'stroke-width': 2});
  
  
  const lab = mk('text', {x: 1075, y: ky(t) + 9, 'text-anchor': 'end', style: 'font-size:24px'});
  lab.textContent = keyYTickLabels[i];
  
  
});

/* Bubble charts */
function bubbleColor(t) {
  t = Math.max(0, Math.min(1, t));
  return 'rgb(' + Math.round(255 * Math.pow(t, 0.45)) + ',0,' + Math.round(255 * Math.pow(1 - t, 0.8)) + ')';
}
function drawBubble(cfg) {
  const fx = linear(0, cfg.xTicks[1], cfg.x0, cfg.x1);
  const fy = i => cfg.yTop + i * cfg.yStep;
  const sizeOf = n => cfg.rMin + cfg.rRange * Math.sqrt((n - cfg.cMin) / (cfg.cMax - cfg.cMin));
  const colorOf = v => bubbleColor((v - cfg.vMin) / (cfg.vMax - cfg.vMin));
  for (let i = 0; i < cfg.xTicks.length; i++) {
    const major = mk('line', {x1: fx(cfg.xTicks[i]), x2: fx(cfg.xTicks[i]), y1: cfg.top, y2: cfg.bottom, stroke: '#e4e4e4', 'stroke-width': 2.5});
    
    
    const half = cfg.xTicks[i] + cfg.xTicks[1] / 2;
    if (fx(half) < cfg.right) {
      const minor = mk('line', {x1: fx(half), x2: fx(half), y1: cfg.top, y2: cfg.bottom, stroke: '#ececec', 'stroke-width': 1.5});
      
      
    }
    const tick = mk('line', {x1: fx(cfg.xTicks[i]), x2: fx(cfg.xTicks[i]), y1: cfg.bottom, y2: cfg.bottom + 6, stroke: '#444', 'stroke-width': 2});
    
    
    const lab = mk('text', {x: fx(cfg.xTicks[i]) + cfg.xLabelShift[i], y: cfg.tickY, 'text-anchor': 'middle'});
    lab.textContent = cfg.xLabels[i];
    
    
  }
  cfg.terms.forEach((lines, i) => {
    const grid = mk('line', {x1: cfg.left, x2: cfg.right, y1: fy(i), y2: fy(i), stroke: '#e4e4e4', 'stroke-width': 2.5});
    
    
    const tick = mk('line', {x1: cfg.left - 6, x2: cfg.left, y1: fy(i), y2: fy(i), stroke: '#444', 'stroke-width': 2});
    
    
    lines.forEach((txt, j) => {
      const off = lines.length === 2 ? (j === 0 ? -17.5 : 9.5) : 0;
      const lab = mk('text', {x: cfg.labelX, y: fy(i) + off + 9 + cfg.labelShift[i], 'text-anchor': 'end'});
      lab.textContent = txt;
      
      
    });
  });
  const frame = mk('rect', {x: cfg.left, y: cfg.top, width: cfg.right - cfg.left, height: cfg.bottom - cfg.top, fill: 'none', stroke: '#555', 'stroke-width': 2});
  
  
  cfg.terms.forEach((lines, i) => {
    const c = mk('circle', {cx: fx(cfg.p[i]), cy: fy(i), r: sizeOf(cfg.n[i]), fill: colorOf(cfg.v[i]), stroke: '#333', 'stroke-width': 1});
    
    
  });
  cfg.legendCounts.forEach((n, i) => {
    const yy = cfg.legY + i * cfg.legStep;
    const c = mk('circle', {cx: cfg.legX, cy: yy, r: sizeOf(n), fill: '#000'});
    
    
    const lab = mk('text', {x: cfg.legTextX, y: yy + 9});
    lab.textContent = String(n);
    
    
  });
  cfg.colorTicks.forEach((t, i) => {
    const yy = cfg.cbY(t);
    const lab = mk('text', {x: cfg.cbTextX, y: yy + 9});
    lab.textContent = cfg.cbFormat(t);
    
    
    const tick = mk('line', {x1: cfg.cbTextX - 13, x2: cfg.cbTextX - 7, y1: yy, y2: yy, stroke: '#fff', 'stroke-width': 1});
    
    
  });
}
drawBubble({prefix: 'bp', terms: bpTerms, p: bpPValues, n: bpCounts, v: bpLogP, xTicks: bpXTicks, xLabels: bpXTickLabels,
  x0: 397.5, x1: 519, yTop: 1113, yStep: 67.6, left: 379, right: 793, top: 1072, bottom: 1829, tickY: 1865, labelX: 363,
  labelShift: [-1,-4,-1,-2.5,-2.5,-5,-4,-2,0,-4,2], xLabelShift: [6,0,-3,-8],
  rMin: 2.6, rRange: 10, cMin: 4, cMax: 16, vMin: 1.9, vMax: 5.5,
  legendCounts: bpLegendCounts, legX: 840, legTextX: 863, legY: 1234, legStep: 34.3,
  colorTicks: bpColorTicks, cbY: linear(5.5, 2.5, 1553, 1679), cbTextX: 864, cbFormat: t => t.toFixed(1)});
drawBubble({prefix: 'mf', terms: mfTerms, p: mfPValues, n: mfCounts, v: mfLogP, xTicks: mfXTicks, xLabels: mfXTickLabels,
  x0: 1413, x1: 1496, yTop: 1235.5, yStep: 62, left: 1395, right: 1796, top: 1198, bottom: 1829, tickY: 1865, labelX: 1381,
  labelShift: [-1,1,-4,-6,-3,0,-5,-5,-5,-8], xLabelShift: [4.5,2,-2.5,-2,-2],
  rMin: 2.5, rRange: 9, cMin: 2, cMax: 8, vMin: 1.8, vMax: 6.3,
  legendCounts: mfLegendCounts, legX: 1838, legTextX: 1857, legY: 1379, legStep: 28.7,
  colorTicks: mfColorTicks, cbY: linear(6, 2, 1562, 1676), cbTextX: 1861, cbFormat: t => String(t)});
</script>
</body>
</html>
